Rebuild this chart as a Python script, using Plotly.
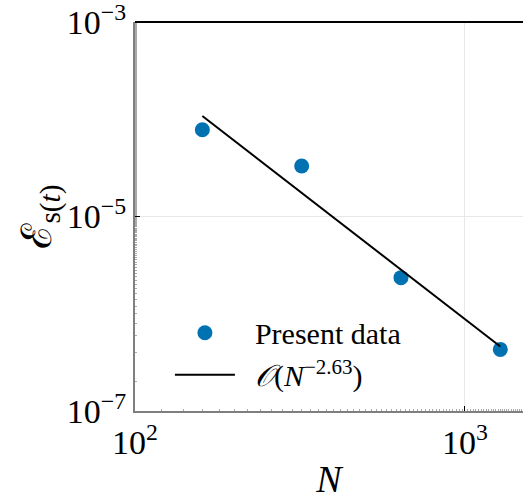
import plotly.graph_objects as go

N = [160, 320, 640, 1280]
err = [7.8e-5, 3.3e-5, 2.35e-6, 4.3e-7]
fit_N = [160, 1280]
fit_err = [1.08e-4, 4.6e-7]

x_tickvals = [100, 1000]
x_ticktext = ["10<sup>2</sup>", "10<sup>3</sup>"]
y_tickvals = [1e-7, 1e-5, 1e-3]
y_ticktext = ["10<sup>−7</sup>", "10<sup>−5</sup>", "10<sup>−3</sup>"]

font = "Liberation Serif, DejaVu Serif, serif"

fig = go.Figure()
fig.add_trace(go.Scatter(x=N, y=err, mode="markers", name="\u00a0\u00a0Present data",
                         marker=dict(color="#0072B2", size=15)))
fig.add_trace(go.Scatter(x=fit_N, y=fit_err, mode="lines",
                         name="\u00a0\u00a0<i>𝒪</i>(<i>N</i><sup>−2.63</sup>)",
                         line=dict(color="black", width=2)))

fig.update_layout(
    width=523, height=502,
    margin=dict(l=135, r=0, t=22, b=91),
    paper_bgcolor="white", plot_bgcolor="white",
    font=dict(family=font, color="black", size=24),
    showlegend=True,
    legend=dict(x=0.09, y=0.268, xanchor="left", yanchor="top",
                bgcolor="rgba(255,255,255,0)", font=dict(size=30),
                itemwidth=60, tracegroupgap=0),
    xaxis=dict(type="log", range=[2, 3.176], tickvals=x_tickvals, ticktext=x_ticktext,
               tickfont=dict(size=34), showgrid=True, gridcolor="#e8e8e8", gridwidth=1,
               showline=True, linecolor="#7f7f7f", linewidth=2,
               ticks="inside", ticklen=5, tickcolor="black", zeroline=False,
               ticklabeloverflow="allow",
               minor=dict(ticks="inside", ticklen=2, tickcolor="#aaaaaa", showgrid=False),
               title=dict(text="<i>N</i>", font=dict(size=38), standoff=6)),
    yaxis=dict(type="log", range=[-7, -3], tickvals=y_tickvals, ticktext=y_ticktext,
               tickfont=dict(size=34), showgrid=True, gridcolor="#e8e8e8", gridwidth=1,
               showline=True, linecolor="#7f7f7f", linewidth=2,
               ticks="inside", ticklen=5, tickcolor="black", zeroline=False,
               ticklabeloverflow="allow",
               minor=dict(ticks="inside", ticklen=2, tickcolor="#aaaaaa", showgrid=False),
               title=dict(text="ℰ<sub>s(<i>t</i>)</sub>", font=dict(size=42), standoff=2)),
)
fig.add_shape(type="line", xref="paper", yref="paper", x0=0, x1=1, y0=1, y1=1,
              line=dict(color="black", width=2))

fig.write_html("out.html")
